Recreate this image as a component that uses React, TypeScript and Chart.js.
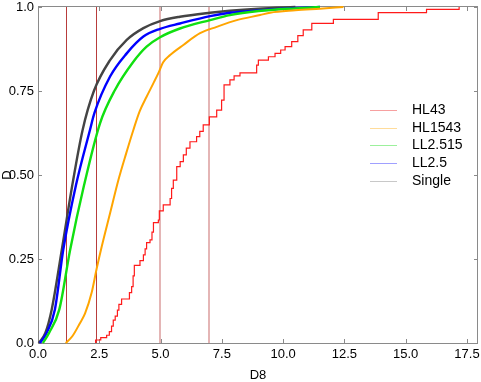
import React, { useEffect, useRef } from 'react';
import { Chart, registerables } from 'chart.js';

Chart.register(...registerables);

const seriesNames = ['HL43', 'HL1543', 'LL2.515', 'LL2.5', 'Single'];
const seriesColors = ['#ff1a1a', '#ffa500', '#10e010', '#0000ff', '#444444'];
const legendColors = ['#f7a0a0', '#ffdc9a', '#9cf09c', '#a0a0ff', '#c8c8c8'];
const seriesWidths = [1.2, 2, 2.4, 2.4, 2.4];

const hl43X = [2.35, 2.35, 2.56, 2.8, 2.91, 3.0, 3.07, 3.15, 3.24, 3.3, 3.41, 3.73, 3.82, 3.88, 3.93, 4.16, 4.3, 4.37, 4.43, 4.57, 4.65, 4.71, 4.91, 4.95, 5.11, 5.39, 5.45, 5.52, 5.66, 5.8, 5.93, 6.05, 6.2, 6.47, 6.6, 6.74, 6.99, 7.29, 7.49, 7.59, 7.83, 8.0, 8.24, 8.92, 8.99, 9.4, 9.67, 9.9, 10.08, 10.35, 10.6, 10.82, 11.17, 12.05, 13.88, 15.85, 17.18];
const hl43Y = [0, 0.009, 0.016, 0.023, 0.034, 0.05, 0.068, 0.08, 0.098, 0.115, 0.131, 0.15, 0.168, 0.2, 0.231, 0.245, 0.262, 0.28, 0.299, 0.307, 0.33, 0.358, 0.366, 0.393, 0.411, 0.43, 0.46, 0.485, 0.525, 0.54, 0.56, 0.58, 0.599, 0.614, 0.63, 0.649, 0.673, 0.693, 0.723, 0.768, 0.783, 0.795, 0.804, 0.827, 0.842, 0.852, 0.862, 0.872, 0.882, 0.897, 0.915, 0.932, 0.951, 0.963, 0.983, 0.993, 1.0];

const hl1543X = [1.13, 1.4, 1.71, 1.92, 2.19, 2.39, 2.6, 2.94, 3.28, 3.6, 3.89, 4.15, 4.43, 4.7, 4.91, 5.1, 5.39, 5.93, 6.61, 7.29, 8.11, 9.06, 9.47, 10.5, 11.5, 12.46];
const hl1543Y = [0, 0.02, 0.059, 0.088, 0.15, 0.22, 0.287, 0.386, 0.485, 0.565, 0.634, 0.69, 0.733, 0.772, 0.803, 0.835, 0.857, 0.887, 0.922, 0.941, 0.961, 0.976, 0.983, 0.99, 0.995, 1.0];

const ll2515X = [0.2, 0.45, 0.87, 1.31, 1.88, 2.53, 3.14, 3.89, 4.43, 4.98, 5.79, 7.02, 7.83, 9.0, 10.5, 11.5];
const ll2515Y = [0, 0.03, 0.1, 0.277, 0.47, 0.654, 0.753, 0.837, 0.882, 0.91, 0.936, 0.961, 0.976, 0.988, 0.996, 1.0];

const ll25X = [0.08, 0.35, 0.69, 1.03, 1.55, 2.12, 2.3, 2.94, 3.62, 4.3, 4.98, 5.79, 7.02, 7.83, 9.0, 10.5, 11.5];
const ll25Y = [0, 0.03, 0.1, 0.277, 0.47, 0.634, 0.684, 0.793, 0.862, 0.912, 0.935, 0.951, 0.973, 0.983, 0.99, 0.997, 1.0];

const singleX = [0.03, 0.3, 0.56, 0.97, 1.4, 1.82, 2.28, 2.94, 3.62, 4.3, 4.98, 5.79, 7.02, 7.83, 9.0, 10.5];
const singleY = [0, 0.03, 0.1, 0.277, 0.47, 0.634, 0.75, 0.842, 0.902, 0.937, 0.958, 0.971, 0.983, 0.989, 0.995, 1.0];

const seriesX = [hl43X, hl1543X, ll2515X, ll25X, singleX];
const seriesY = [hl43Y, hl1543Y, ll2515Y, ll25Y, singleY];

const vlineX = [1.13, 2.35, 4.98, 6.98];

const xTicks = [0, 2.5, 5, 7.5, 10, 12.5, 15, 17.5];
const xTickLabels = ['0.0', '2.5', '5.0', '7.5', '10.0', '12.5', '15.0', '17.5'];
const yTicks = [0, 0.25, 0.5, 0.75, 1];
const yTickLabels = ['0.0', '0.25', '0.50', '0.75', '1.0'];
const xMin = 0;
const xMax = 17.95;

const FONT = '"Liberation Sans", Arial, sans-serif';
const FRAME = '#8a8a8a';
const VLINE_STYLES = [
  { color: 'rgba(180, 50, 50, 0.95)', width: 1, offset: 0.5 },
  { color: 'rgba(180, 50, 50, 0.95)', width: 1, offset: 0.5 },
  { color: 'rgba(205, 120, 120, 0.55)', width: 2, offset: 0 },
  { color: 'rgba(205, 120, 120, 0.55)', width: 2, offset: 0 },
];

const framePlugin = {
  id: 'frameAndLines',
  beforeDatasetsDraw(chart: any) {
    const { ctx, chartArea: a, scales } = chart;
    const xs = scales.x;
    const ys = scales.y;
    ctx.save();
    vlineX.forEach((v, i) => {
      const st = VLINE_STYLES[i % VLINE_STYLES.length];
      const px = Math.round(xs.getPixelForValue(v)) + st.offset;
      ctx.strokeStyle = st.color;
      ctx.lineWidth = st.width;
      ctx.beginPath();
      ctx.moveTo(px, a.top);
      ctx.lineTo(px, a.bottom);
      ctx.stroke();
    });
    ctx.strokeStyle = FRAME;
    ctx.lineWidth = 1;
    ctx.strokeRect(Math.round(a.left) + 0.5, Math.round(a.top) - 0.5, Math.round(a.right - a.left) - 1, Math.round(a.bottom - a.top) + 1);
    ctx.beginPath();
    xTicks.forEach((v) => {
      const px = Math.round(xs.getPixelForValue(v)) + 0.5;
      ctx.moveTo(px, a.bottom);
      ctx.lineTo(px, a.bottom - 4);
      ctx.moveTo(px, a.top);
      ctx.lineTo(px, a.top + 4);
    });
    yTicks.forEach((v) => {
      const py = Math.round(ys.getPixelForValue(v)) + 0.5;
      ctx.moveTo(a.left, py);
      ctx.lineTo(a.left + 4, py);
      ctx.moveTo(a.right, py);
      ctx.lineTo(a.right - 4, py);
    });
    ctx.stroke();
    ctx.restore();
  },
  afterDraw(chart: any) {
    const { ctx, chartArea: a } = chart;
    ctx.save();
    const lx0 = a.right - 108;
    const lx1 = lx0 + 27;
    const tx = lx0 + 42;
    const y0 = a.top + 103;
    const dy = 17.7;
    ctx.font = `14px ${FONT}`;
    ctx.textBaseline = 'middle';
    ctx.textAlign = 'left';
    seriesNames.forEach((name, i) => {
      const y = Math.round(y0 + i * dy) + 0.5;
      ctx.strokeStyle = legendColors[i];
      ctx.lineWidth = 1;
      ctx.beginPath();
      ctx.moveTo(lx0, y);
      ctx.lineTo(lx1, y);
      ctx.stroke();
      ctx.fillStyle = '#000';
      ctx.fillText(name, tx, y);
    });
    ctx.restore();
  },
};

export default function App() {
  const ref = useRef<HTMLCanvasElement>(null);
  useEffect(() => {
    const datasets = seriesNames.map((name, i) => ({
      label: name,
      data: seriesX[i].map((x, j) => ({ x, y: seriesY[i][j] })),
      borderColor: seriesColors[i],
      backgroundColor: seriesColors[i],
      borderWidth: seriesWidths[i],
      pointRadius: 0,
      fill: false,
      clip: 4,
      stepped: i === 0 ? 'before' : false,
      cubicInterpolationMode: 'monotone',
    }));
    const chart = new Chart(ref.current as HTMLCanvasElement, {
      type: 'line',
      data: { datasets } as any,
      plugins: [framePlugin],
      options: {
        animation: false,
        responsive: false,
        maintainAspectRatio: false,
        layout: { padding: { top: 7, right: 3, left: 0, bottom: 0 } },
        plugins: { legend: { display: false }, tooltip: { enabled: false } },
        scales: {
          x: {
            type: 'linear',
            min: xMin,
            max: xMax,
            afterFit: (s: any) => {
              s.height = 39;
              s.paddingLeft = 0;
              s.paddingRight = 0;
            },
            afterBuildTicks: (s: any) => { s.ticks = xTicks.map((v) => ({ value: v })); },
            grid: { display: false, drawTicks: false },
            border: { display: false },
            ticks: {
              color: '#000',
              padding: 4,
              maxRotation: 0,
              autoSkip: false,
              font: { family: FONT, size: 13 },
              callback: (v: any) => xTickLabels[xTicks.indexOf(Number(v))] ?? '',
            },
            title: {
              display: true,
              text: 'D8',
              color: '#000',
              padding: { top: 0, bottom: -1 },
              font: { family: FONT, size: 13 },
            },
          },
          y: {
            type: 'linear',
            min: 0,
            max: 1,
            afterFit: (s: any) => {
              s.width = 38;
              s.paddingTop = 0;
              s.paddingBottom = 0;
            },
            afterBuildTicks: (s: any) => { s.ticks = yTicks.map((v) => ({ value: v })); },
            grid: { display: false, drawTicks: false },
            border: { display: false },
            ticks: {
              color: '#000',
              padding: 4,
              autoSkip: false,
              font: { family: FONT, size: 13 },
              callback: (v: any) => yTickLabels[yTicks.indexOf(Number(v))] ?? '',
            },
            title: {
              display: true,
              text: 'D',
              color: '#000',
              padding: { top: 0, bottom: 0 },
              font: { family: FONT, size: 13 },
            },
          },
        },
      },
    } as any);
    return () => chart.destroy();
  }, []);
  return (
    <div style={{ position: 'absolute', left: 0, top: 0, width: 481, height: 382, background: '#fff' }}>
      <canvas ref={ref} width={481} height={382} style={{ width: 481, height: 382, display: 'block' }} />
    </div>
  );
}
